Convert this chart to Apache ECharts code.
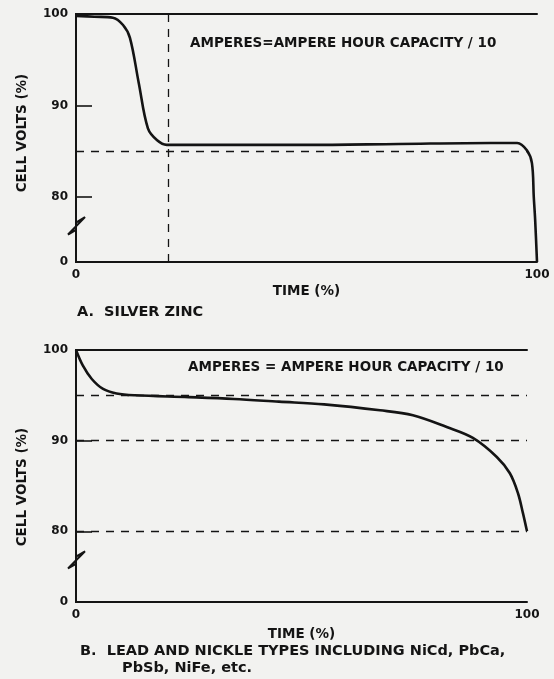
<!DOCTYPE html>
<html>
<head>
<meta charset="utf-8">
<script src="https://cdn.jsdelivr.net/npm/echarts@6/dist/echarts.min.js"></script>
<style>
html,body{margin:0;padding:0;background:#f2f2f0;}
#chart{width:554px;height:679px;}
</style>
</head>
<body>
<div id="chart"></div>
<script>
// ---- Data (Chart A: silver zinc) ----
const timeA  = [0, 4, 8, 10.2, 11.7, 13.6, 15.6, 17.6, 19.7, 30, 50, 70, 90, 95.7, 97.8, 98.9, 99.3, 99.6, 100];
const voltsA = [99.8, 99.7, 99.6, 98.8, 97.4, 92.5, 87.5, 86.2, 85.7, 85.7, 85.7, 85.8, 85.9, 85.9, 85.1, 83.7, 80, 77.5, 72.9];
const refLevelsA = [85];
const refTimesA  = [20];

// ---- Data (Chart B: lead and nickel types) ----
const timeB  = [0, 1.5, 3.5, 6, 9, 13, 25, 35, 45, 55, 67.4, 74.7, 82.2, 88, 93.3, 96.2, 98, 99.1, 100];
const voltsB = [100, 98.3, 96.8, 95.7, 95.2, 95.0, 94.8, 94.6, 94.3, 94.0, 93.35, 92.8, 91.5, 90.3, 88.2, 86.4, 84.2, 82, 80];
const refLevelsB = [95, 90, 80];

// ---- Axes / tick labels ----
const yMinA = 72.9;          // broken axis: bottom of scale is labelled "0"
const yMinB = 72.2;
const yTicks = [80, 90];
const xTicks = [0, 100];
const breakVals = [77.2, 77.8, 75.9, 76.4]; // zig-zag of the axis break

// ---- Texts ----
const yName = 'CELL VOLTS (%)';
const xName = 'TIME (%)';
const noteTextA = 'AMPERES=AMPERE HOUR CAPACITY / 10';
const noteTextB = 'AMPERES = AMPERE HOUR CAPACITY / 10';
const captionA = 'A.  SILVER ZINC';
const captionB1 = 'B.  LEAD AND NICKLE TYPES INCLUDING NiCd, PbCa,';
const captionB2 = 'PbSb, NiFe, etc.';

const INK = '#141414';
const FONT = '"DejaVu Sans", Verdana, sans-serif';

function zip(xs, ys){ return xs.map((x,i)=>[x, ys[i]]); }

function yLabelFmt(v){ return v < 79 ? '0' : String(Math.round(v)); }

function mainY(grid, yMin, pad){
  return {
    gridIndex: grid, type:'value', min:yMin, max:100, position:'left',
    axisLine:{show:false},
    axisTick:{show:true, inside:true, length:16, customValues:yTicks, lineStyle:{color:INK, width:1.6}},
    axisLabel:{customValues:[yMin, 80, 90, 100], formatter:yLabelFmt, color:INK, fontSize:12, fontWeight:'bold', fontFamily:FONT, margin:8},
    splitLine:{show:false},
    name:yName, nameLocation:'middle', nameGap:47,
    nameTextStyle:{color:INK, fontSize:13.5, fontWeight:'bold', fontFamily:FONT, padding:pad}
  };
}
function frameY(grid, yMin){
  return {gridIndex:grid, type:'value', min:yMin, max:100, position:'right',
    axisLine:{show:true, lineStyle:{color:INK, width:2}}, axisTick:{show:false}, axisLabel:{show:false}, splitLine:{show:false}};
}
function mainX(grid, gap){
  return {
    gridIndex:grid, type:'value', min:0, max:100, interval:100, position:'bottom',
    axisLine:{show:true, onZero:false, lineStyle:{color:INK, width:2}},
    axisTick:{show:false},
    axisLabel:{customValues:xTicks, color:INK, fontSize:12, fontWeight:'bold', fontFamily:FONT, margin:7},
    splitLine:{show:false},
    name:xName, nameLocation:'middle', nameGap:gap,
    nameTextStyle:{color:INK, fontSize:13.5, fontWeight:'bold', fontFamily:FONT}
  };
}
function frameX(grid){
  return {gridIndex:grid, type:'value', min:0, max:100, position:'top',
    axisLine:{show:true, onZero:false, lineStyle:{color:INK, width:2}}, axisTick:{show:false}, axisLabel:{show:false}, splitLine:{show:false}};
}

function axisWithBreak(xIdx, yIdx, yMin){
  return {
    type:'custom', xAxisIndex:xIdx, yAxisIndex:yIdx, clip:false, silent:true,
    data:[[0, 100]],
    renderItem:function(params, api){
      const top = api.coord([0, 100]);
      const bot = api.coord([0, yMin]);
      const a = api.coord([0, breakVals[0]]);
      const b = api.coord([0, breakVals[1]]);
      const c = api.coord([0, breakVals[2]]);
      const d = api.coord([0, breakVals[3]]);
      const x0 = top[0];
      return {type:'polyline',
        shape:{points:[[x0, top[1]-1], [x0, a[1]], [x0+9, b[1]], [x0-8, c[1]], [x0, d[1]], [x0, bot[1]+1]]},
        style:{stroke:INK, lineWidth:2, fill:null, lineJoin:'bevel'}};
    }
  };
}

const dashStyle = {type:[8,7], color:INK, width:1.3};

const option = {
  backgroundColor:'#f2f2f0',
  animation:false,
  grid:[
    {left:76, top:14, width:461, height:248},
    {left:76, top:350, width:451, height:252}
  ],
  xAxis:[mainX(0, 22), frameX(0), mainX(1, 25), frameX(1)],
  yAxis:[mainY(0, yMinA, [0, 0, 0, 10]), frameY(0, yMinA), mainY(1, yMinB, [0, 22, 0, 0]), frameY(1, yMinB)],
  series:[
    axisWithBreak(0, 0, yMinA),
    axisWithBreak(2, 2, yMinB),
    {
      type:'line', xAxisIndex:0, yAxisIndex:0, data:zip(timeA, voltsA),
      showSymbol:false, smooth:0.35,
      lineStyle:{color:INK, width:2.6},
      markLine:{
        silent:true, symbol:'none', label:{show:false}, lineStyle:dashStyle,
        data:[
          ...refLevelsA.map(v=>[{coord:[0, v]}, {coord:[98, v]}]),
          ...refTimesA.map(t=>[{coord:[t, 100]}, {coord:[t, yMinA]}])
        ]
      }
    },
    {
      type:'line', xAxisIndex:2, yAxisIndex:2, data:zip(timeB, voltsB),
      showSymbol:false, smooth:0.35,
      lineStyle:{color:INK, width:2.6},
      markLine:{
        silent:true, symbol:'none', label:{show:false}, lineStyle:dashStyle,
        data: refLevelsB.map(v=>[{coord:[0, v]}, {coord:[100, v]}])
      }
    }
  ],
  graphic:[
    {type:'text', x:190, y:43, style:{text:noteTextA, font:'bold 13.5px '+FONT, fill:INK, textVerticalAlign:'middle'}},
    {type:'text', x:188, y:367, style:{text:noteTextB, font:'bold 13.5px '+FONT, fill:INK, textVerticalAlign:'middle'}},
    {type:'text', x:77, y:312, style:{text:captionA, font:'bold 14.5px '+FONT, fill:INK, textVerticalAlign:'middle'}},
    {type:'text', x:80, y:651, style:{text:captionB1, font:'bold 14.5px '+FONT, fill:INK, textVerticalAlign:'middle'}},
    {type:'text', x:122, y:668, style:{text:captionB2, font:'bold 14.5px '+FONT, fill:INK, textVerticalAlign:'middle'}}
  ]
};

const chart = echarts.init(document.getElementById('chart'), null, {renderer:'canvas'});
chart.setOption(option);
</script>
</body>
</html>
